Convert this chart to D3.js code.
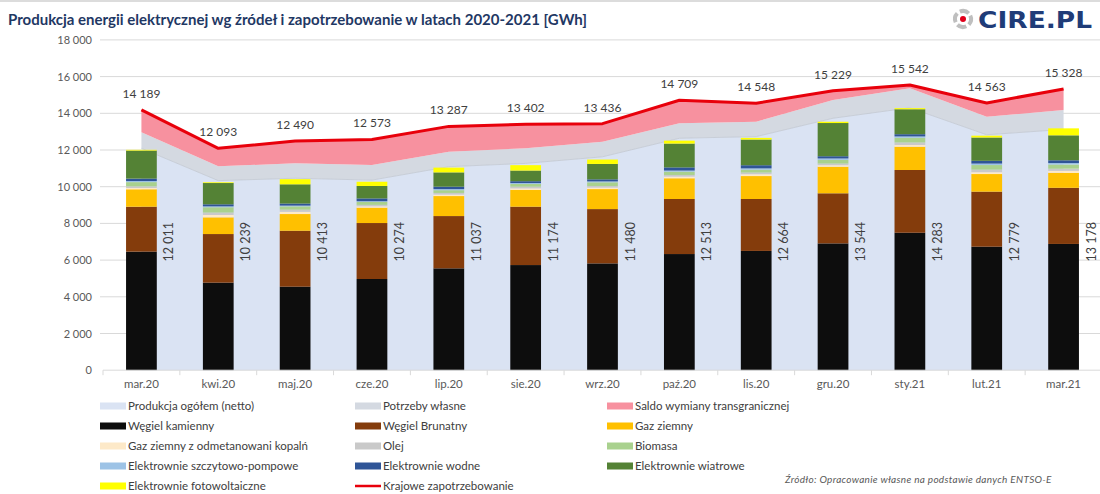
<!DOCTYPE html>
<html>
<head>
<meta charset="utf-8">
<script src="https://cdn.jsdelivr.net/npm/d3@7"></script>
<style>
  body { margin: 0; background: #fff; }
  svg { display: block; font-family: Lato, "Open Sans", sans-serif; }
</style>
</head>
<body>
<svg id="chart" width="1100" height="494"></svg>
<script>
// months on the x axis
const months = ["mar.20", "kwi.20", "maj.20", "cze.20", "lip.20", "sie.20", "wrz.20",
                "paź.20", "lis.20", "gru.20", "sty.21", "lut.21", "mar.21"]

// area layers
const netto    = [12090, 10330, 10460, 10360, 11090, 11270, 11630, 12640, 12730, 13730, 14300, 12830, 13120]
const potrzeby = [875, 780, 815, 820, 820, 820, 820, 815, 815, 995, 1060, 985, 1060]
const demand   = [14189, 12093, 12490, 12573, 13287, 13402, 13436, 14709, 14548, 15229, 15542, 14563, 15328]
const grossLabels = [12011, 10239, 10413, 10274, 11037, 11174, 11480, 12513, 12664, 13544, 14283, 12779, 13178]

// stacked sources per month
const kamienny  = [6460, 4770, 4550, 4970, 5550, 5730, 5820, 6330, 6500, 6910, 7490, 6730, 6880]
const brunatny  = [2450, 2650, 3050, 3050, 2850, 3180, 2960, 3000, 2830, 2730, 3420, 3000, 3060]
const gaz       = [950, 910, 910, 840, 1090, 910, 1090, 1130, 1250, 1450, 1270, 960, 820]
const odmet     = [70, 130, 120, 70, 80, 90, 80, 90, 100, 80, 90, 100, 100]
const olej      = [90, 130, 120, 80, 90, 90, 90, 90, 90, 90, 140, 140, 120]
const biomasa   = [230, 290, 180, 160, 150, 150, 200, 180, 160, 200, 260, 250, 230]
const pompowe   = [60, 50, 40, 40, 60, 50, 50, 60, 70, 80, 70, 80, 80]
const wodne     = [130, 110, 110, 150, 130, 100, 110, 170, 170, 120, 120, 150, 150]
const wiatrowe  = [1530, 1160, 1050, 680, 780, 580, 840, 1300, 1400, 1810, 1360, 1270, 1360]
const pv        = [40, 40, 280, 230, 260, 294, 240, 160, 90, 70, 60, 100, 380]

const sources = [
  { name: "Węgiel kamienny", values: kamienny, color: "#0d0d0d" },
  { name: "Węgiel Brunatny", values: brunatny, color: "#843c0c" },
  { name: "Gaz  ziemny", values: gaz, color: "#ffc000" },
  { name: "Gaz ziemny z odmetanowani kopalń", values: odmet, color: "#fde9c8" },
  { name: "Olej", values: olej, color: "#c9c9c9" },
  { name: "Biomasa", values: biomasa, color: "#a9d18e" },
  { name: "Elektrownie szczytowo-pompowe", values: pompowe, color: "#9dc3e6" },
  { name: "Elektrownie wodne", values: wodne, color: "#2f5597" },
  { name: "Elektrownie wiatrowe", values: wiatrowe, color: "#548235" },
  { name: "Elektrownie fotowoltaiczne", values: pv, color: "#ffff00" }
]

const yTicks = [0, 2000, 4000, 6000, 8000, 10000, 12000, 14000, 16000, 18000]

const colNetto = "#dae3f3", colPotrzeby = "#d4d9e1", colSaldo = "#f7919f", colDemand = "#e8000b"

const svg = d3.select("#chart")
const fmt = v => d3.format(",")(v).replace(/,/g, " ")

const x = d3.scaleBand().domain(months).range([103, 1102]).paddingInner(0.6).paddingOuter(0.3)
const y = d3.scaleLinear().domain([0, 18000]).range([370.2, 39.9])
const cx = m => x(m) + x.bandwidth() / 2

// top frame line
svg.append("line").attr("x1", 0).attr("x2", 1100).attr("y1", 1).attr("y2", 1)
  .attr("stroke", "#d0d0d0").attr("stroke-width", 1.5)

// title
svg.append("text").attr("x", 8).attr("y", 25)
  .attr("font-size", 15).attr("font-weight", 700).attr("fill", "#1f3864")
  .text("Produkcja energii elektrycznej wg źródeł i zapotrzebowanie w latach 2020-2021 [GWh]")

// logo
const logo = svg.append("g").attr("transform", "translate(963,19)")
logo.append("circle").attr("r", 8).attr("fill", "none").attr("stroke", "#bfbfbf")
  .attr("stroke-width", 4).attr("stroke-dasharray", "9.5 3.07")
  .attr("transform", "rotate(-25)")
logo.append("circle").attr("r", 3).attr("fill", "#e0001b")
svg.append("text").attr("x", 978).attr("y", 28)
  .attr("font-family", "DejaVu Sans, Liberation Sans, sans-serif")
  .attr("font-size", 23).attr("font-weight", 700).attr("fill", "#1f3c78")
  .attr("textLength", 114).attr("lengthAdjust", "spacingAndGlyphs")
  .text("CIRE.PL")

// gridlines + y labels
svg.append("g").selectAll("line").data(yTicks.slice(1)).join("line")
  .attr("x1", 100).attr("x2", 1100)
  .attr("y1", d => y(d)).attr("y2", d => y(d))
  .attr("stroke", "#d9d9d9").attr("stroke-width", 1)

svg.append("g").selectAll("text").data(yTicks).join("text")
  .attr("x", 92).attr("y", d => y(d) + 4)
  .attr("text-anchor", "end").attr("font-size", 11).attr("fill", "#595959")
  .text(d => fmt(d))

// stacked areas: netto, potrzeby własne, saldo up to demand
const rows = months.map((m, i) => ({
  m, base: netto[i], top1: netto[i] + potrzeby[i], dem: demand[i]
}))
const area = (lo, hi) => d3.area().x(d => cx(d.m)).y0(d => y(lo(d))).y1(d => y(hi(d)))

svg.append("path").datum(rows).attr("fill", colNetto)
  .attr("d", area(() => 0, d => d.base))
svg.append("path").datum(rows).attr("fill", colPotrzeby)
  .attr("d", area(d => d.base, d => d.top1))
svg.append("path").datum(rows).attr("fill", "none").attr("stroke", "#c2c8d2").attr("stroke-width", 0.8)
  .attr("d", d3.line().x(d => cx(d.m)).y(d => y(d.base)))
svg.append("path").datum(rows).attr("fill", colSaldo)
  .attr("d", area(d => d.top1, d => d.dem))

// stacked bars
const stackRows = months.map((m, i) => {
  const r = { m }
  sources.forEach(s => { r[s.name] = s.values[i] })
  return r
})
const stacked = d3.stack().keys(sources.map(s => s.name))(stackRows)

svg.append("g").selectAll("g").data(stacked).join("g")
  .attr("fill", (d, i) => sources[i].color)
  .selectAll("rect").data(d => d).join("rect")
  .attr("x", d => x(d.data.m))
  .attr("width", x.bandwidth())
  .attr("y", d => y(d[1]))
  .attr("height", d => y(d[0]) - y(d[1]))

// demand line
svg.append("path").datum(rows).attr("fill", "none")
  .attr("stroke", colDemand).attr("stroke-width", 3).attr("stroke-linejoin", "round")
  .attr("d", d3.line().x(d => cx(d.m)).y(d => y(d.dem)))

// x axis
svg.append("line").attr("x1", 103).attr("x2", 1102).attr("y1", y(0)).attr("y2", y(0))
  .attr("stroke", "#d9d9d9")
svg.append("g").selectAll("line").data(d3.range(months.length + 1)).join("line")
  .attr("x1", i => 103 + i * x.step()).attr("x2", i => 103 + i * x.step())
  .attr("y1", y(0)).attr("y2", y(0) + 5)
  .attr("stroke", "#d9d9d9")
svg.append("g").selectAll("text").data(months).join("text")
  .attr("x", d => cx(d)).attr("y", 388)
  .attr("text-anchor", "middle").attr("font-size", 11.5).attr("fill", "#595959")
  .text(d => d)

// labels
svg.append("g").selectAll("text").data(months).join("text")
  .attr("transform", (d, i) => `translate(${cx(d) + 32},${y(7000)}) rotate(-90)`)
  .attr("text-anchor", "middle").attr("font-size", 12.5).attr("fill", "#404040")
  .text((d, i) => fmt(grossLabels[i]))

svg.append("g").selectAll("text").data(rows).join("text")
  .attr("x", d => cx(d.m)).attr("y", d => y(d.dem) - 12)
  .attr("text-anchor", "middle").attr("font-size", 12).attr("fill", "#404040")
  .text(d => fmt(d.dem))

// legend
const legendItems = [
  { name: "Produkcja ogółem (netto)", color: colNetto },
  { name: "Potrzeby własne", color: colPotrzeby },
  { name: "Saldo wymiany transgranicznej", color: colSaldo },
  ...sources.map(s => ({ name: s.name, color: s.color })),
  { name: "Krajowe zapotrzebowanie", color: colDemand, line: true }
]
const colX = [100, 355, 607]
const lg = svg.append("g").selectAll("g").data(legendItems).join("g")
  .attr("transform", (d, i) => `translate(${colX[i % 3]},${406 + Math.floor(i / 3) * 20})`)
lg.filter(d => !d.line).append("rect")
  .attr("x", 0).attr("y", -3.5).attr("width", 26).attr("height", 7).attr("fill", d => d.color)
lg.filter(d => d.line).append("line")
  .attr("x1", 0).attr("x2", 26).attr("y1", 0).attr("y2", 0)
  .attr("stroke", d => d.color).attr("stroke-width", 2.5)
lg.append("text").attr("x", 28).attr("y", 4)
  .attr("font-size", 11.5).attr("fill", "#404040")
  .text(d => d.name)

// source note
svg.append("text").attr("x", 785).attr("y", 483)
  .attr("font-size", 10).attr("font-style", "italic").attr("fill", "#595959")
  .attr("letter-spacing", 0.3)
  .text("Źródło: Opracowanie własne na podstawie danych ENTSO-E")
</script>
</body>
</html>
